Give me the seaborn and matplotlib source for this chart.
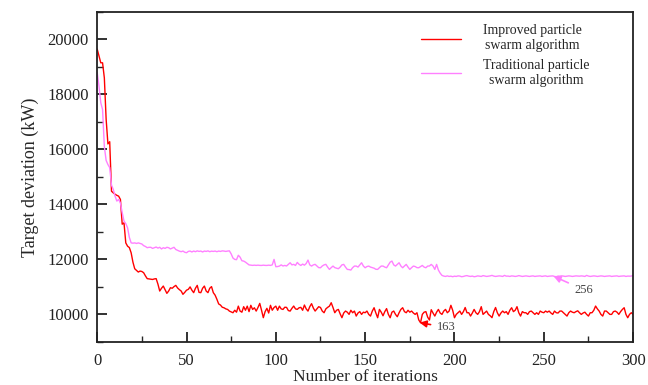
import pandas as pd
import matplotlib
matplotlib.use('Agg')
import matplotlib.pyplot as plt
import seaborn as sns
import numpy as np

# One value per iteration (0..300)
improved = [
    19650, 19400, 19150, 19150, 18600, 17100, 16200, 16280, 14480, 14420,
    14370, 14330, 14300, 14180, 13280, 13330, 12600, 12480, 12430, 12240,
    11900, 11660, 11600, 11540, 11575, 11560, 11515, 11400, 11300, 11290,
    11280, 11270, 11290, 11300, 11100, 10850, 10950, 11030, 10900, 10765,
    10850, 10970, 10950, 11010, 11055, 10960, 10900, 10850, 10730, 10800,
    10880, 10910, 11000, 10880, 10790, 10950, 11055, 10800, 10790, 10950,
    11030, 10850, 10790, 10950, 11010, 10790, 10700, 10550, 10380, 10340,
    10260, 10240, 10200, 10180, 10120, 10090, 10060, 10150, 10080, 10300,
    10120, 10080, 10280, 10150, 10300, 10100, 10330, 10180, 10240, 10120,
    10250, 10400, 10150, 9880, 10100, 10220, 10050, 10330, 10150, 10250,
    10300, 10150, 10300, 10200, 10180, 10260, 10255, 10140, 10120, 10220,
    10303, 10200, 10182, 10240, 10255, 10150, 10340, 10200, 10120, 10280,
    10390, 10230, 10121, 10200, 10280, 10250, 10120, 10060, 10200, 10255,
    10300, 10424, 10250, 10060, 10150, 10181, 10020, 9880, 10050, 10121,
    10080, 10000, 10150, 10060, 10120, 9939, 10050, 10100, 10000, 10080,
    10060, 10121, 10000, 9939, 10120, 10242, 10050, 9878, 10181, 10080,
    9950, 10100, 10210, 10000, 9878, 10080, 10121, 10000, 9915, 10060,
    10181, 10242, 10100, 10060, 10150, 10080, 10121, 10050, 10000, 10060,
    9800, 9697, 10000, 10080, 10100, 9900, 9794, 10170, 10050, 9939,
    10080, 10181, 10050, 10000, 10121, 10181, 10060, 10120, 10330, 10150,
    9878, 10000, 10060, 10121, 10000, 10100, 10250, 10060, 10060, 9939,
    10050, 10181, 10060, 10000, 10100, 10280, 10000, 10060, 10120, 10000,
    9950, 9880, 10100, 10250, 10060, 9939, 10050, 10121, 10060, 10100,
    10000, 10150, 10242, 10100, 10150, 10280, 10060, 9939, 10100, 10060,
    10060, 10000, 10100, 10121, 10060, 10000, 10060, 10000, 10121, 10080,
    10060, 10121, 10080, 10121, 10050, 10000, 10121, 10060, 10050, 10121,
    10121, 10060, 10000, 9939, 10060, 10121, 10080, 10060, 10100, 10130,
    10060, 10000, 10050, 10080, 10000, 9939, 10060, 10060, 10150, 10303,
    10200, 10121, 10000, 9939, 10121, 10121, 10060, 10000, 10000, 10100,
    10121, 10080, 10000, 10100, 10180, 10242, 10000, 9878, 10000, 10060,
    10000,
]

traditional = [
    18800, 18300, 17700, 17450, 16100, 15600, 15450, 15340, 14700, 14545,
    14300, 14121, 14181, 14050, 13700, 13393, 13300, 13150, 12800, 12600,
    12590, 12600, 12580, 12600, 12582, 12560, 12500, 12470, 12425, 12440,
    12440, 12400, 12425, 12450, 12410, 12440, 12380, 12425, 12400, 12440,
    12425, 12380, 12410, 12440, 12360, 12330, 12300, 12280, 12303, 12260,
    12242, 12290, 12303, 12270, 12303, 12280, 12310, 12290, 12303, 12270,
    12303, 12290, 12310, 12280, 12300, 12290, 12303, 12280, 12303, 12290,
    12310, 12303, 12290, 12303, 12310, 12200, 12050, 12000, 11990, 12150,
    12080, 11950, 11939, 11900, 11850, 11800, 11790, 11782, 11790, 11782,
    11790, 11782, 11780, 11790, 11782, 11780, 11790, 11782, 11800, 12000,
    11734, 11740, 11757, 11800, 11760, 11780, 11760, 11820, 11878, 11800,
    11820, 11780, 11890, 11820, 11780, 11830, 11790, 11850, 11975, 11800,
    11757, 11800, 11820, 11760, 11700, 11696, 11760, 11800, 11820, 11720,
    11636, 11700, 11757, 11700, 11680, 11660, 11720, 11800, 11818, 11720,
    11636, 11630, 11612, 11700, 11757, 11757, 11720, 11800, 11878, 11760,
    11696, 11740, 11757, 11720, 11700, 11680, 11640, 11636, 11700, 11757,
    11757, 11720, 11696, 11800, 11900, 11939, 11800, 11757, 11820, 11878,
    11760, 11696, 11760, 11818, 11720, 11636, 11700, 11757, 11740, 11700,
    11696, 11740, 11780, 11720, 11696, 11757, 11760, 11818, 11757, 11636,
    11818, 11612, 11500, 11418, 11393, 11380, 11400, 11380, 11390, 11370,
    11390, 11380, 11400, 11393, 11370, 11380, 11400, 11410, 11390, 11380,
    11393, 11370, 11380, 11400, 11390, 11380, 11410, 11393, 11380, 11390,
    11400, 11418, 11393, 11380, 11390, 11400, 11393, 11380, 11418, 11390,
    11393, 11380, 11400, 11393, 11380, 11390, 11410, 11393, 11380, 11390,
    11400, 11390, 11380, 11393, 11400, 11380, 11390, 11393, 11400, 11380,
    11393, 11400, 11380, 11390, 11393, 11400, 11380, 11370, 11393, 11390,
    11400, 11393, 11380, 11390, 11400, 11393, 11380, 11390, 11400, 11393,
    11390, 11400, 11393, 11380, 11418, 11393, 11380, 11390, 11400, 11393,
    11380, 11390, 11400, 11393, 11380, 11390, 11393, 11400, 11380, 11390,
    11393, 11400, 11380, 11390, 11393, 11400, 11380, 11393, 11390, 11393,
    11420,
]

iterations = list(range(len(improved)))
series_names = ['Improved particle\nswarm algorithm', 'Traditional particle\nswarm algorithm']
colors = ['#ff0000', '#ff80ff']

# annotated points: label, arrow tip, text position
annot_labels = ['163', '256']
annot_xy = [(180.5, 9700), (255.5, 11385)]
annot_text_xy = [(190, 9530), (267, 10900)]

df = pd.DataFrame({
    'iteration': iterations * 2,
    'deviation': improved + traditional,
    'series': [series_names[0]] * len(improved) + [series_names[1]] * len(traditional),
})

sns.set_style('ticks')
plt.rcParams['font.family'] = ['Liberation Serif', 'DejaVu Serif']

fig = plt.figure(figsize=(6.48, 3.85), dpi=100)
ax = fig.add_axes([0.150, 0.112, 0.827, 0.857])

sns.lineplot(data=df, x='iteration', y='deviation', hue='series',
             palette=colors, estimator=None, linewidth=1.0, ax=ax)

ax.set_xlim(0, 300)
ax.set_ylim(9000, 21000)
ax.set_xticks(range(0, 301, 50))
ax.set_xticks(range(0, 301, 25), minor=True)
ax.set_yticks(range(10000, 20001, 2000))
ax.set_yticks(range(9000, 21001, 1000), minor=True)
ax.ticklabel_format(style='plain', useOffset=False)

ax.tick_params(axis='both', which='major', direction='in', length=7, width=1.3,
               labelsize=12, colors='#222222')
ax.tick_params(axis='both', which='minor', direction='in', length=4, width=1.0)
ax.tick_params(axis='x', which='major', pad=8)
ax.tick_params(axis='y', which='major', pad=6)
for s in ax.spines.values():
    s.set_linewidth(1.3)
    s.set_color('#222222')

ax.set_xlabel('Number of iterations', fontsize=12.5, labelpad=0)
ax.set_ylabel('Target deviation (kW)', fontsize=13, labelpad=6)

handles, labels = ax.get_legend_handles_labels()
leg = ax.legend(handles, labels, loc='upper left', bbox_to_anchor=(0.58, 1.0),
                frameon=False, fontsize=10, handlelength=2.9, handletextpad=1.6,
                labelspacing=0.45)
for t in leg.get_texts():
    t.set_multialignment('center')

for lab, xy, txy, c in zip(annot_labels, annot_xy, annot_text_xy, colors):
    ax.annotate(lab, xy=xy, xytext=txy, fontsize=9, color='#444444',
                va='center', ha='left',
                arrowprops=dict(arrowstyle='-|>', color=c, lw=1.2,
                                shrinkA=2, shrinkB=0, mutation_scale=10))

fig.savefig('out.png', dpi=100)
